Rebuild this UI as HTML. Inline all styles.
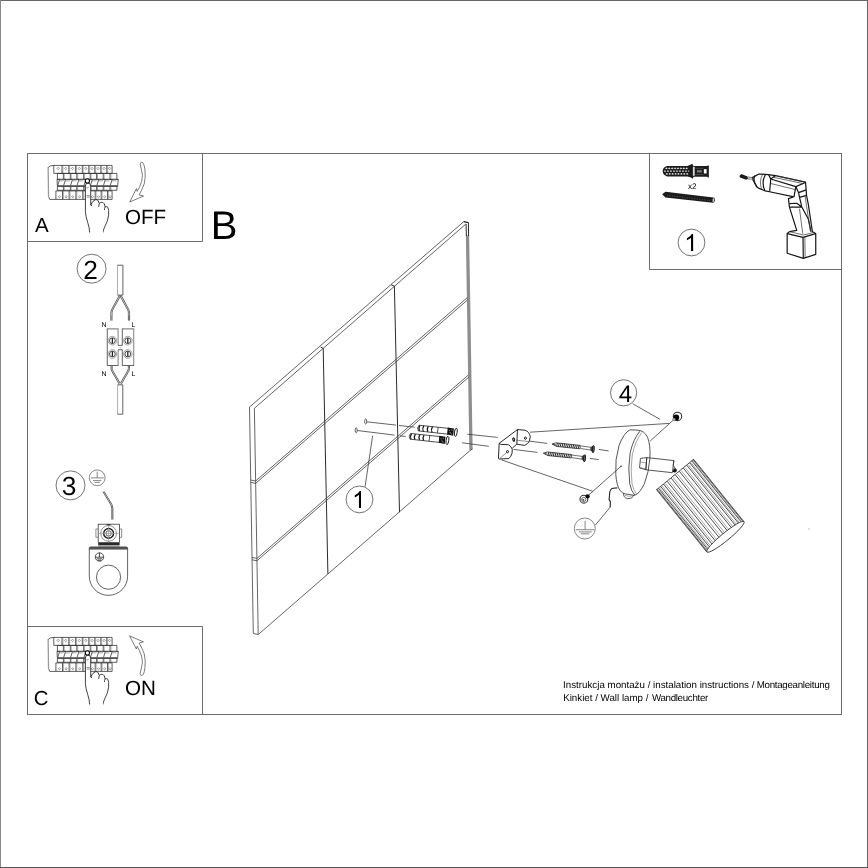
<!DOCTYPE html>
<html><head><meta charset="utf-8">
<style>
html,body{margin:0;padding:0;background:#fff;}
body{width:868px;height:868px;overflow:hidden;}
svg{display:block;}
text{font-family:"Liberation Sans",sans-serif;fill:#000;text-rendering:geometricPrecision;}
.f{fill:none;stroke:#6c6c6c;stroke-width:1;}
.l{fill:none;stroke:#333;stroke-width:0.8;}
.t{fill:none;stroke:#555;stroke-width:0.6;}
.k{fill:none;stroke:#111;stroke-width:1;}
.bk{fill:none;stroke:#2a2a2a;stroke-width:0.75;}
.bk2{fill:none;stroke:#6a6a6a;stroke-width:0.55;}
.hd{stroke:#222;stroke-width:0.85;fill:none;vector-effect:non-scaling-stroke;stroke-linejoin:round;}
.hf{fill:#fff;}
.bkt{stroke:#1c1c1c;stroke-width:0.95;fill:none;vector-effect:non-scaling-stroke;stroke-linejoin:round;}
.bkt2{stroke:#444;stroke-width:0.6;fill:none;vector-effect:non-scaling-stroke;}
.lp{stroke:#2a2a2a;stroke-width:0.8;fill:none;vector-effect:non-scaling-stroke;stroke-linejoin:round;}
.lp2{stroke:#666;stroke-width:0.6;fill:none;vector-effect:non-scaling-stroke;}
.sh{stroke:#222;stroke-width:0.8;fill:none;}
.sh2{stroke:#7a7a7a;stroke-width:0.65;fill:none;}
.w{stroke:#3e3e3e;stroke-width:0.8;fill:none;}
.wv{stroke:#2a2a2a;stroke-width:1;fill:none;}
.wk{stroke:#111;stroke-width:0.9;fill:none;}
.wr{stroke:#8e8e8e;stroke-width:3.3;fill:none;}
.ak{stroke:#222;stroke-width:0.8;fill:none;vector-effect:non-scaling-stroke;}
.dk{stroke:#151515;stroke-width:1.2;fill:none;vector-effect:non-scaling-stroke;stroke-linejoin:round;}
.dm2{stroke:#333;stroke-width:0.7;fill:none;vector-effect:non-scaling-stroke;}
.dm{stroke:#555;stroke-width:0.6;fill:none;vector-effect:non-scaling-stroke;}
.cn{fill:none;stroke:#444;stroke-width:0.75;}
.s2d{fill:none;stroke:#363636;stroke-width:0.78;}
.s2g{fill:none;stroke:#999;stroke-width:0.8;}
.s2a{fill:none;stroke:#999;stroke-width:0.7;}
.s2b{fill:none;stroke:#1c1c1c;stroke-width:0.8;}
.s2w{fill:none;stroke:#ddd;stroke-width:0.5;}
.s3g{fill:none;stroke:#686868;stroke-width:0.8;}
.hd2{stroke:#444;stroke-width:0.6;fill:none;vector-effect:non-scaling-stroke;}
.ar{stroke:#444;stroke-width:0.7;fill:#fff;vector-effect:non-scaling-stroke;stroke-linejoin:miter;}
</style></head><body>
<svg style="will-change:transform" width="868" height="868" viewBox="0 0 868 868">
<rect x="0" y="0" width="868" height="868" fill="#fff"/>
<defs><g id="brk">
<path class="bk" d="M53.8 165.5 L50.4 165.9 Q48.4 166.6 48 168 M48.5 196.5 L49.8 199.4 L112.1 199.4"/>
<path d="M48.15 167.5 L48.55 196.8" stroke="#9a9a9a" stroke-width="1.3" fill="none"/>
<path class="bk" d="M53.80 165.4H112.10V173.4H53.80Z"/>
<path class="bk" d="M62.00 165.4V173.4"/>
<path class="bk2" d="M62.90 165.4V173.4"/>
<path class="bk" d="M68.80 165.4V173.4"/>
<path class="bk2" d="M69.70 165.4V173.4"/>
<path class="bk" d="M75.60 165.4V173.4"/>
<path class="bk2" d="M76.50 165.4V173.4"/>
<path class="bk" d="M82.30 165.4V173.4"/>
<path class="bk2" d="M83.20 165.4V173.4"/>
<path class="bk" d="M88.80 165.4V173.4"/>
<path class="bk2" d="M89.70 165.4V173.4"/>
<path class="bk" d="M94.80 165.4V173.4"/>
<path class="bk2" d="M95.70 165.4V173.4"/>
<path class="bk" d="M100.80 165.4V173.4"/>
<path class="bk2" d="M101.70 165.4V173.4"/>
<path class="bk" d="M106.75 165.4V173.4"/>
<path class="bk2" d="M107.65 165.4V173.4"/>
<path d="M58.20 167.3l1.2 1.2l-1.2 1.2l-1.2 -1.2z" fill="none" stroke="#555" stroke-width="0.6"/>
<path d="M65.70 167.3l1.2 1.2l-1.2 1.2l-1.2 -1.2z" fill="none" stroke="#555" stroke-width="0.6"/>
<path d="M72.50 167.3l1.2 1.2l-1.2 1.2l-1.2 -1.2z" fill="none" stroke="#555" stroke-width="0.6"/>
<path d="M79.25 167.3l1.2 1.2l-1.2 1.2l-1.2 -1.2z" fill="none" stroke="#555" stroke-width="0.6"/>
<path d="M85.85 167.3l1.2 1.2l-1.2 1.2l-1.2 -1.2z" fill="none" stroke="#555" stroke-width="0.6"/>
<path d="M92.10 167.3l1.2 1.2l-1.2 1.2l-1.2 -1.2z" fill="none" stroke="#555" stroke-width="0.6"/>
<path d="M98.10 167.3l1.2 1.2l-1.2 1.2l-1.2 -1.2z" fill="none" stroke="#555" stroke-width="0.6"/>
<path d="M104.08 167.3l1.2 1.2l-1.2 1.2l-1.2 -1.2z" fill="none" stroke="#555" stroke-width="0.6"/>
<path d="M109.72 167.3l1.2 1.2l-1.2 1.2l-1.2 -1.2z" fill="none" stroke="#555" stroke-width="0.6"/>
<path class="bk" d="M57.40 173.4H116.90V179.3H57.40Z"/>
<path class="bk" d="M63.40 173.4V179.3"/>
<path class="bk2" d="M64.30 173.4V179.3"/>
<path class="bk" d="M70.30 173.4V179.3"/>
<path class="bk2" d="M71.20 173.4V179.3"/>
<path class="bk" d="M76.80 173.4V179.3"/>
<path class="bk2" d="M77.70 173.4V179.3"/>
<path class="bk" d="M83.70 173.4V179.3"/>
<path class="bk2" d="M84.60 173.4V179.3"/>
<path class="bk" d="M90.20 173.4V179.3"/>
<path class="bk2" d="M91.10 173.4V179.3"/>
<path class="bk" d="M96.60 173.4V179.3"/>
<path class="bk2" d="M97.50 173.4V179.3"/>
<path class="bk" d="M103.20 173.4V179.3"/>
<path class="bk2" d="M104.10 173.4V179.3"/>
<path class="bk" d="M110.00 173.4V179.3"/>
<path class="bk2" d="M110.90 173.4V179.3"/>
<path class="bk" d="M57 179.4H118.3L117.6 186.4H57.4Z"/>
<path d="M57.2 185.2H117.7V186.7H57.2Z" fill="#484848"/>
<path d="M57 178.95H118.3V179.75H57Z" fill="#3a3a3a"/>
<path d="M59.70 179.8H64.10L63.60 181.6H59.20Z" fill="#c4c4c4"/>
<path class="bk" d="M57.70 185.3L59.40 180"/>
<path d="M65.70 179.8H70.10L69.60 181.6H65.20Z" fill="#c4c4c4"/>
<path class="bk" d="M63.70 185.3L65.40 180"/>
<path d="M72.60 179.8H77.00L76.50 181.6H72.10Z" fill="#c4c4c4"/>
<path class="bk" d="M70.60 185.3L72.30 180"/>
<path d="M79.10 179.8H83.50L83.00 181.6H78.60Z" fill="#c4c4c4"/>
<path class="bk" d="M77.10 185.3L78.80 180"/>
<path d="M86.00 179.8H90.40L89.90 181.6H85.50Z" fill="#c4c4c4"/>
<path class="bk" d="M84.00 185.3L85.70 180"/>
<path d="M92.50 179.8H96.90L96.40 181.6H92.00Z" fill="#c4c4c4"/>
<path class="bk" d="M90.50 185.3L92.20 180"/>
<path d="M98.90 179.8H103.30L102.80 181.6H98.40Z" fill="#c4c4c4"/>
<path class="bk" d="M96.90 185.3L98.60 180"/>
<path d="M105.50 179.8H109.90L109.40 181.6H105.00Z" fill="#c4c4c4"/>
<path class="bk" d="M103.50 185.3L105.20 180"/>
<path d="M112.30 179.8H116.70L116.20 181.6H111.80Z" fill="#c4c4c4"/>
<path class="bk" d="M110.30 185.3L112.00 180"/>
<path class="bk" d="M57.40 186.7V190.3H116.90V186.7"/>
<path class="bk" d="M63.40 186.7V190.3"/>
<path class="bk2" d="M64.30 186.7V190.3"/>
<path class="bk" d="M70.30 186.7V190.3"/>
<path class="bk2" d="M71.20 186.7V190.3"/>
<path class="bk" d="M76.80 186.7V190.3"/>
<path class="bk2" d="M77.70 186.7V190.3"/>
<path class="bk" d="M83.70 186.7V190.3"/>
<path class="bk2" d="M84.60 186.7V190.3"/>
<path class="bk" d="M90.20 186.7V190.3"/>
<path class="bk2" d="M91.10 186.7V190.3"/>
<path class="bk" d="M96.60 186.7V190.3"/>
<path class="bk2" d="M97.50 186.7V190.3"/>
<path class="bk" d="M103.20 186.7V190.3"/>
<path class="bk2" d="M104.10 186.7V190.3"/>
<path class="bk" d="M110.00 186.7V190.3"/>
<path class="bk2" d="M110.90 186.7V190.3"/>
<path class="bk" d="M55.90 199.4V190.9H112.10V199.4"/>
<path class="bk" d="M62.50 190.9V199.4"/>
<path class="bk2" d="M63.40 190.9V199.4"/>
<path class="bk" d="M69.10 190.9V199.4"/>
<path class="bk2" d="M70.00 190.9V199.4"/>
<path class="bk" d="M75.90 190.9V199.4"/>
<path class="bk2" d="M76.80 190.9V199.4"/>
<path class="bk" d="M82.80 190.9V199.4"/>
<path class="bk2" d="M83.70 190.9V199.4"/>
<path class="bk" d="M89.00 190.9V199.4"/>
<path class="bk2" d="M89.90 190.9V199.4"/>
<path class="bk" d="M95.20 190.9V199.4"/>
<path class="bk2" d="M96.10 190.9V199.4"/>
<path class="bk" d="M101.20 190.9V199.4"/>
<path class="bk2" d="M102.10 190.9V199.4"/>
<path class="bk" d="M107.50 190.9V199.4"/>
<path class="bk2" d="M108.40 190.9V199.4"/>
<path d="M59.50 195.6l1.15 1.15l-1.15 1.15l-1.15 -1.15z" fill="none" stroke="#555" stroke-width="0.6"/>
<path d="M66.10 195.6l1.15 1.15l-1.15 1.15l-1.15 -1.15z" fill="none" stroke="#555" stroke-width="0.6"/>
<path d="M72.80 195.6l1.15 1.15l-1.15 1.15l-1.15 -1.15z" fill="none" stroke="#555" stroke-width="0.6"/>
<path d="M79.65 195.6l1.15 1.15l-1.15 1.15l-1.15 -1.15z" fill="none" stroke="#555" stroke-width="0.6"/>
<path d="M86.20 195.6l1.15 1.15l-1.15 1.15l-1.15 -1.15z" fill="none" stroke="#555" stroke-width="0.6"/>
<path d="M92.40 195.6l1.15 1.15l-1.15 1.15l-1.15 -1.15z" fill="none" stroke="#555" stroke-width="0.6"/>
<path d="M98.50 195.6l1.15 1.15l-1.15 1.15l-1.15 -1.15z" fill="none" stroke="#555" stroke-width="0.6"/>
<path d="M104.65 195.6l1.15 1.15l-1.15 1.15l-1.15 -1.15z" fill="none" stroke="#555" stroke-width="0.6"/>
<path d="M110.10 195.6l1.15 1.15l-1.15 1.15l-1.15 -1.15z" fill="none" stroke="#555" stroke-width="0.6"/>
<g transform="translate(40,155) scale(0.10369)">
<path class="hd hf" d="M438 545 L438 300 Q438 270 461 270 Q489 270 489 300 L489 482 Q505 440 540 428 Q565 430 572 468 Q585 452 605 456 Q625 465 628 502 Q645 492 655 505 Q665 525 662 580 Q655 640 625 690 Q610 720 608 752 L480 762 Q478 700 460 650 Q438 585 438 545Z" fill="#fff"/>
<path class="hd" d="M489 482 Q493 470 498 492 M572 468 Q566 480 566 500 M628 502 Q620 515 622 530"/>
<circle cx="457" cy="250" r="20.5" fill="#fff" stroke="#000" stroke-width="1.05" vector-effect="non-scaling-stroke"/><path class="hd2" d="M448 318 Q462 322 472 306"/>
<path class="hd2" d="M448 392H480 M452 406H480"/>
</g>
<path d="M89.2 232.5L103.6 231.6L103.8 235.5L89.2 235.5Z" fill="#fff"/>
</g></defs>
<!-- outer border -->
<path d="M0 0.5H868" stroke="#676767"/><path d="M0.5 0V868" stroke="#888"/><path d="M867.5 0V868" stroke="#666"/><path d="M0 867.5H868" stroke="#555"/><rect x="808.5" y="528.5" width="1" height="1" fill="#888"/>
<!-- main frame -->
<g id="frame" class="f">
<rect x="27.5" y="153.5" width="814" height="561"/>
<path d="M27.5 241.5H202.5V153.5"/>
<path d="M27.5 626.5H202.5V714.5"/>
<path d="M649.5 153.5V269.5H841.5"/>
</g>
<!-- labels -->
<g id="labels">
<text x="210.8" y="238.8" font-size="40">B</text>
<g font-size="9.75" fill="#1e1e1e"><text x="563.1" y="688.2">Instrukcja montażu / instalation instructions /</text><text x="756.7" y="688.2" letter-spacing="-0.29">Montageanleitung</text><text x="563.2" y="701.1">Kinkiet / Wall lamp /</text><text x="651.9" y="701.1" letter-spacing="-0.31">Wandleuchter</text></g>
</g>
<g id="secA"><use href="#brk"/>
<g transform="translate(115,155) scale(0.092166)"><path class="ar" d="M290 78 Q272 80 273 100 Q288 160 298 220 Q296 290 265 350 L240 395 L232 365 L160 510 L310 445 L262 432 Q295 375 318 310 Q334 240 325 160 Q318 110 308 92 Q300 78 290 78Z"/></g>
<text x="35" y="231.7" font-size="20.5">A</text>
<text x="124.9" y="223.75" font-size="20.6">OFF</text></g>
<g id="secC"><use href="#brk" transform="translate(0,472)"/>
<g transform="translate(115,625) scale(0.092166)"><path class="ar" d="M290 548 Q272 546 273 526 Q288 466 298 406 Q296 336 265 276 L240 231 L232 261 L158 118 L308 183 L262 196 Q295 251 318 316 Q334 386 325 466 Q318 516 308 534 Q300 548 290 548Z"/></g>
<text x="33.74" y="704.85" font-size="20.3">C</text>
<text x="124.9" y="694.85" font-size="20.6">ON</text></g>
<g id="sec2"><circle class="cn" cx="91.6" cy="268.7" r="14.5"/>
<text x="83.3" y="278.5" font-size="26.3">2</text>
<path class="s2g" d="M117.5 295.1V265.2"/><path class="s2d" d="M117.5 265.2H122.9V295.1H117.5"/>
<path class="s2d" d="M119.3 295.3L111.6 309.5Q110.7 311.5 110.8 314L110.8 320.6 M120.7 295.6L112.6 310.2Q111.9 311.8 112 314L112 320.6"/>
<path class="s2d" d="M121.2 295.3L128.8 309.5Q129.7 311.5 129.6 314L129.6 320.6 M119.9 295.8L127.8 310.2Q128.5 311.8 128.4 314L128.4 320.6"/>
<path class="s2w" d="M111.4 312.5V315.5 M129 312.5V315.5"/>
<text x="101.6" y="327.1" font-size="6.9" fill="#222">N</text><text x="131.5" y="327.1" font-size="6.9">L</text>
<text x="101.6" y="375.5" font-size="6.9">N</text><text x="131.5" y="375.5" font-size="6.9">L</text>
<path d="M107.25 328.9H118.1V345.4 M118.1 349.7V365.5 M122.3 328.9H133.7V365.5" fill="none" stroke="#8a8a8a" stroke-width="1.1"/>
<path class="s2d" d="M107.25 328.6V365.5H118.4 M118.1 345.4H122.3V328.6 M118.1 349.7H122.3V365.5H134"/>
<circle cx="120.1" cy="347.5" r="0.45" fill="#444"/>
<circle cx="112.4" cy="340.7" r="4.3" fill="none" stroke="#808080" stroke-width="0.7"/><circle cx="112.4" cy="340.7" r="2.9" fill="none" stroke="#222" stroke-width="0.8"/><rect x="111.75" y="338.10" width="1.3" height="5.2" fill="#222"/>
<circle cx="112.4" cy="354.0" r="4.3" fill="none" stroke="#808080" stroke-width="0.7"/><circle cx="112.4" cy="354.0" r="2.9" fill="none" stroke="#222" stroke-width="0.8"/><rect x="111.75" y="351.40" width="1.3" height="5.2" fill="#222"/>
<circle cx="127.8" cy="340.7" r="4.3" fill="none" stroke="#808080" stroke-width="0.7"/><circle cx="127.8" cy="340.7" r="2.9" fill="none" stroke="#222" stroke-width="0.8"/><rect x="127.15" y="338.10" width="1.3" height="5.2" fill="#222"/>
<circle cx="127.8" cy="354.0" r="4.3" fill="none" stroke="#808080" stroke-width="0.7"/><circle cx="127.8" cy="354.0" r="2.9" fill="none" stroke="#222" stroke-width="0.8"/><rect x="127.15" y="351.40" width="1.3" height="5.2" fill="#222"/>
<path class="s2d" d="M111 365.8V368.5Q111 370 112 371.6L119.2 384.2 M112.2 365.8V368.3Q112.2 369.6 113 371L120.1 383.2"/>
<path class="s2d" d="M129.5 365.8V368.5Q129.5 370 128.6 371.6L121.3 384.2 M128.3 365.8V368.3Q128.3 369.6 127.5 371L120.4 383.2"/>
<path class="s2g" d="M117.6 384.8V414.2"/><path class="s2d" d="M117.6 384.8H122.8V414.2H117.6"/></g>
<g id="sec3"><circle class="cn" cx="70.5" cy="485.4" r="14.5"/>
<text x="61.67" y="495.04" font-size="26.3">3</text>
<g class="s3g"><circle cx="97.2" cy="477.8" r="7.9"/><path d="M97.2 471.6V477.8 M90.9 477.9H103.8 M93 480.6H101.4 M94.6 482.4H99.8"/></g>
<path class="s2d" d="M103 491.8Q105.5 496 108.3 500.6Q111.6 505 111.8 508.5L111.8 519.6 M104 491.3Q106.5 495.5 109.3 500.1Q112.7 504.6 112.9 508.3L112.9 519.6"/>
<rect class="s2d" x="98.2" y="524.2" width="21.4" height="18.3" fill="#fff"/>
<path d="M98.2 529H95.9V537.3H98.2 M119.6 529H121.7V537.3H119.6" fill="none" stroke="#6e6e6e" stroke-width="0.8"/>
<circle cx="108.6" cy="533.4" r="7.9" fill="none" stroke="#777" stroke-width="0.8"/>
<circle cx="108.6" cy="533.4" r="4.9" fill="none" stroke="#1a1a1a" stroke-width="1.4"/>
<circle class="s2d" cx="108.6" cy="533.4" r="2.7"/>
<path class="s2g" d="M108.6 524.4V542.4 M99 533.4H118.6"/>
<path d="M106.3 524.2H110.9L110 525.2H107.2Z" fill="#222"/>
<rect x="98.2" y="542.9" width="21.4" height="2.5" fill="#2a2a2a"/>
<path class="s2g" d="M98.2 546.2H119.6"/>
<path class="s2d" d="M90.6 547.1H126.2Q127.6 547.1 127.6 548.5V576.2A19.15 19.15 0 0 1 89.3 576.2V548.5Q89.3 547.1 90.6 547.1Z" fill="#fff"/>
<path d="M90.6 547.1H126.2Q127.6 547.1 127.6 548.5V549.3H89.3V548.5Q89.3 547.1 90.6 547.1Z" fill="#555" stroke="#444" stroke-width="0.5"/>
<circle class="s2d" cx="108.55" cy="577.2" r="12.1"/>
<g fill="none" stroke="#222" stroke-width="0.8"><circle cx="99.5" cy="557" r="4.2"/><path d="M99.5 553V557 M95.6 557.2H103.4 M96.8 558.8H102.2 M98 560.2H101"/></g></g>
<g id="tools"><circle class="cn" cx="691.5" cy="242.5" r="13.4"/>
<path d="M763 0L583 0L583 1147Q518 1085 412.5 1023Q307 961 223 930L223 1104Q374 1175 487 1276Q600 1377 647 1472L763 1472Z" fill="#000" transform="translate(684.33,250.90) scale(0.011523,-0.011523)"/>
<text x="687.9" y="189.4" font-size="8.2" fill="#222">x2</text>
<g transform="translate(655,158) scale(0.080645)">
<path d="M95 165 Q98 110 150 100 L400 100 L440 85 L462 72 L478 100 L650 100 L650 92 L668 92 L668 242 L650 242 L650 232 L480 232 L465 258 L440 240 L400 228 L150 228 Q98 215 95 165Z" fill="#1c1c1c"/>
<path d="M125 128l16 -11l16 11l-16 11z M131 198l16 -11l16 11l-16 11z" fill="#f2f2f2"/>
<path d="M161 128l16 -11l16 11l-16 11z M167 198l16 -11l16 11l-16 11z" fill="#f2f2f2"/>
<path d="M197 128l16 -11l16 11l-16 11z M203 198l16 -11l16 11l-16 11z" fill="#f2f2f2"/>
<path d="M233 128l16 -11l16 11l-16 11z M239 198l16 -11l16 11l-16 11z" fill="#f2f2f2"/>
<path d="M269 128l16 -11l16 11l-16 11z M275 198l16 -11l16 11l-16 11z" fill="#f2f2f2"/>
<path d="M305 128l16 -11l16 11l-16 11z M311 198l16 -11l16 11l-16 11z" fill="#f2f2f2"/>
<path d="M341 128l16 -11l16 11l-16 11z M347 198l16 -11l16 11l-16 11z" fill="#f2f2f2"/>
<path d="M377 128l16 -11l16 11l-16 11z M383 198l16 -11l16 11l-16 11z" fill="#f2f2f2"/>
<path d="M112 162H420" stroke="#ccc" stroke-width="14" stroke-dasharray="24 13"/>
<rect x="470" y="108" width="22" height="112" fill="#ddd"/>
<rect x="606" y="138" width="34" height="54" fill="#fff"/>
<rect x="520" y="150" width="60" height="30" fill="#777"/>
<path d="M500 128H600 M500 205H600" stroke="#888" stroke-width="5"/>
<path d="M88 448 L130 418 L725 490 Q745 495 742 525 Q738 555 718 555 L130 490 Z" fill="#1c1c1c"/>
<ellipse cx="723" cy="522" rx="11" ry="27" fill="#fff" stroke="#222" stroke-width="5" transform="rotate(8 723 522)"/>
<path d="M150 462 L690 528" stroke="#999" stroke-width="7" stroke-dasharray="9 22"/>
</g>
<g transform="translate(735,165) scale(0.092166)">
<path d="M48 116 L70 99 L136 124 L142 150 L120 159 L54 136 Z" fill="#1a1a1a"/>
<path class="dm2" d="M140 130 L192 137 M138 151 L188 153"/>
<path class="dk" fill="#fff" d="M192 134 L255 100 L275 98 L360 105 L440 115 L765 185 L772 270 L776 330 L795 425 L840 725 L876 744 L876 970 L741 1013 L566 957 L566 744 L591 723 L670 710 L590 455 L580 365 L640 345 L375 290 L325 280 L250 248 L235 235 L195 162 Z"/>
<path class="dk" d="M216 116 Q188 160 240 241"/>
<path class="dk" d="M330 103 Q282 190 325 280"/>
<path class="dm2" d="M300 100 Q255 180 292 266"/>
<path class="dk" d="M366 107 L388 152 L376 290 M388 152 L440 115 M388 152 L660 235 L765 190 M660 235 L640 345"/>
<path class="dm2" d="M384 200 L652 266 M420 134 L742 202 M470 122 L770 188"/>
<path class="dk" d="M772 270 L690 300 L660 235 M690 300 L700 352 L776 330"/>
<path class="dk" d="M590 420 L670 415 L725 455 L590 457 M725 455 L795 585 L825 725 M700 352 L725 455"/>
<path class="dm2" d="M700 475 L735 745 M760 330 L775 440 L818 715"/>
<path class="dk" d="M566 744 L738 786 L876 744 M738 786 L741 1013"/>
<path class="dm2" d="M758 782 L761 1006 M591 723 L745 760 L858 730"/>
</g></g>
<g id="wall"><path class="w" d="M249.5 407.1L463.7 221.7L468.4 222.6"/>
<path class="w" d="M254.4 408.3L465.9 224.0"/>
<path class="w" d="M249.5 407.1L253.3 633.5L258.5 634.6"/>
<path class="w" d="M254.4 408.3L258.2 634.2"/>
<path class="w" d="M258.5 634.3L469.7 450.8"/>
<path class="wr" d="M467.5 235.5L471 449.9"/>
<path class="wk" d="M466.1 224L466.35 236 M468.4 222.6L468.6 236 M463.7 221.7L468.4 222.6"/>
<path class="w" d="M472.4 448.9L469.7 450.9"/>
<path class="wv" d="M323.2 348.4L327.9 573.8 M320.7 347.0L323.2 348.4"/>
<path class="wv" d="M394.4 286.2L399.5 512.2 M391.2 284.8L394.4 286.2"/>
<path class="w" d="M250.7 480.0L255.6 481.0L467.3 297.6 M250.8 482.4L255.6 483.4L467.4 300.1"/>
<path class="w" d="M252 557.4L256.9 558.4L468.6 374.8 M252.1 559.8L256.9 560.8L468.7 377.2"/>
<ellipse class="w" cx="365.7" cy="421.5" rx="1" ry="2.6"/><ellipse class="w" cx="356.2" cy="430.2" rx="1" ry="2.6"/>
<path class="w" d="M366.8 421.8L396 425.1 M399 425.5L414.6 427.2 M357.3 430.5L394.5 435.1 M400 435.8L405.7 436.5"/>
<g transform="translate(345.00,405.00) scale(0.14977)">
<path class="ak" fill="#fff" d="M494 135 Q478 153 490 173 L688 195 L692 156 Z"/>
<path d="M500 138 q-12 17 -3 36" fill="none" stroke="#111" stroke-width="1.25" vector-effect="non-scaling-stroke"/>
<path d="M526 140 q-12 17 -3 36" fill="none" stroke="#111" stroke-width="1.25" vector-effect="non-scaling-stroke"/>
<path d="M556 143 q-12 17 -3 36" fill="none" stroke="#111" stroke-width="1.25" vector-effect="non-scaling-stroke"/>
<path d="M584 146 q-12 17 -3 36" fill="none" stroke="#111" stroke-width="1.25" vector-effect="non-scaling-stroke"/>
<path class="ak" d="M622 149 L617 186" stroke="#888"/>
<path d="M686 151 L727 157 L722 205 L682 197 Z" fill="#111"/>
<path d="M694 170l8 2 M699 184l9 2 M706 192l8 2 M709 166l8 2" stroke="#ddd" stroke-width="4"/>
<ellipse cx="740" cy="182" rx="9" ry="28" fill="#fff" stroke="#1a1a1a" stroke-width="1" vector-effect="non-scaling-stroke" transform="rotate(8 740 182)"/>
</g>
<g transform="translate(336.61,413.24) scale(0.14977)">
<path class="ak" fill="#fff" d="M494 135 Q478 153 490 173 L688 195 L692 156 Z"/>
<path d="M500 138 q-12 17 -3 36" fill="none" stroke="#111" stroke-width="1.25" vector-effect="non-scaling-stroke"/>
<path d="M526 140 q-12 17 -3 36" fill="none" stroke="#111" stroke-width="1.25" vector-effect="non-scaling-stroke"/>
<path d="M556 143 q-12 17 -3 36" fill="none" stroke="#111" stroke-width="1.25" vector-effect="non-scaling-stroke"/>
<path d="M584 146 q-12 17 -3 36" fill="none" stroke="#111" stroke-width="1.25" vector-effect="non-scaling-stroke"/>
<path class="ak" d="M622 149 L617 186" stroke="#888"/>
<path d="M686 151 L727 157 L722 205 L682 197 Z" fill="#111"/>
<path d="M694 170l8 2 M699 184l9 2 M706 192l8 2 M709 166l8 2" stroke="#ddd" stroke-width="4"/>
<ellipse cx="740" cy="182" rx="9" ry="28" fill="#fff" stroke="#1a1a1a" stroke-width="1" vector-effect="non-scaling-stroke" transform="rotate(8 740 182)"/>
</g>
<path class="w" d="M372.6 435.8L365.1 486.6"/>
<circle class="cn" cx="359.5" cy="499.4" r="13.4"/>
<path d="M763 0L583 0L583 1147Q518 1085 412.5 1023Q307 961 223 930L223 1104Q374 1175 487 1276Q600 1377 647 1472L763 1472Z" fill="#000" transform="translate(352.23,508.00) scale(0.011523,-0.011523)"/>
<path class="w" d="M467.3 434.2L490 436.6 M462.1 442.8L488.8 446.3"/></g>
<g id="lamp"><path class="w" d="M529.9 432.2L669.4 423.4 M673 420.4L650.1 441.1 M501.5 459.9L592.8 491.3 M589 494.8L621.1 466.2 M632.6 403.7L659.9 419.3"/>
<path class="w" d="M490 436.6L497.7 437.4 M529.9 441.2L547.2 443.4 M598.8 449.4L608.6 450.9 M513.5 449.4L537.4 452.4 M589.8 458.4L598.8 459.6"/>
<g transform="translate(485,400) scale(0.14977)">
<path class="bkt" fill="#fff" d="M94.6 289.4 L216.9 197.1 L265.4 201.7 Q297 210 302.3 245.6 L295.4 277.9 Q285 292 265.4 303.3 L212.3 295 L182.3 321.7"/>
<path class="bkt" d="M216.9 197.1 L212.3 295"/>
<path class="bkt2" d="M212.3 268.6 L295.4 277.9"/>
<path class="bkt" fill="#fff" d="M94.6 289.4 L106 296.3 L156.9 298.6 Q177 311 182.3 331 L180 358.6 Q173 379 159.2 390.9 L94.6 394.2 L90 390 Z"/>
<path class="bkt2" d="M96 392 L146 349"/>
<ellipse cx="270" cy="255" rx="6.5" ry="7.5" fill="#fff" stroke="#111" stroke-width="1" vector-effect="non-scaling-stroke"/><ellipse cx="150" cy="345" rx="6.5" ry="7.5" fill="#fff" stroke="#111" stroke-width="1" vector-effect="non-scaling-stroke"/><ellipse cx="191.5" cy="264" rx="6" ry="11" fill="#fff" stroke="#111" stroke-width="1.1" vector-effect="non-scaling-stroke" transform="rotate(-12 191.5 264)"/>
<g transform="translate(0,0)"><path d="M447 294 L474 286 L635 303 L635 326 L478 310 Z" fill="#fff" stroke="#222" stroke-width="0.8" vector-effect="non-scaling-stroke" stroke-linejoin="round"/><path d="M484 287.1L478 310.0 M496 288.3L490 311.2 M508 289.6L502 312.4 M520 290.9L514 313.7 M532 292.1L526 314.9 M544 293.4L538 316.1 M556 294.7L550 317.3 M568 295.9L562 318.6 M580 297.2L574 319.8 M592 298.5L586 321.0 M604 299.7L598 322.2 M616 301.0L610 323.5 M628 302.3L622 324.7" fill="none" stroke="#222" stroke-width="0.95" vector-effect="non-scaling-stroke"/><path d="M455 296 L474 300" stroke="#222" stroke-width="0.8" vector-effect="non-scaling-stroke"/><path d="M635 306 L709 316 M639 324 L705 334" fill="none" stroke="#333" stroke-width="0.7" vector-effect="non-scaling-stroke"/><path d="M704 315 L722 303 L724 352 L702 335 Z" fill="#444"/><ellipse cx="723" cy="328" rx="6.5" ry="24" fill="#666" stroke="#111" stroke-width="0.9" vector-effect="non-scaling-stroke" transform="rotate(5 723 328)"/></g>
<g transform="translate(-58,61)"><path d="M447 294 L474 286 L635 303 L635 326 L478 310 Z" fill="#fff" stroke="#222" stroke-width="0.8" vector-effect="non-scaling-stroke" stroke-linejoin="round"/><path d="M484 287.1L478 310.0 M496 288.3L490 311.2 M508 289.6L502 312.4 M520 290.9L514 313.7 M532 292.1L526 314.9 M544 293.4L538 316.1 M556 294.7L550 317.3 M568 295.9L562 318.6 M580 297.2L574 319.8 M592 298.5L586 321.0 M604 299.7L598 322.2 M616 301.0L610 323.5 M628 302.3L622 324.7" fill="none" stroke="#222" stroke-width="0.95" vector-effect="non-scaling-stroke"/><path d="M455 296 L474 300" stroke="#222" stroke-width="0.8" vector-effect="non-scaling-stroke"/><path d="M635 306 L709 316 M639 324 L705 334" fill="none" stroke="#333" stroke-width="0.7" vector-effect="non-scaling-stroke"/><path d="M704 315 L722 303 L724 352 L702 335 Z" fill="#444"/><ellipse cx="723" cy="328" rx="6.5" ry="24" fill="#666" stroke="#111" stroke-width="0.9" vector-effect="non-scaling-stroke" transform="rotate(5 723 328)"/></g>
</g>
<circle cx="677.5" cy="416.4" r="4.2" fill="#fff" stroke="#333" stroke-width="1.1"/><circle cx="676.3" cy="417.5" r="2.9" fill="#050505"/><circle cx="674" cy="419.3" r="1.3" fill="#ccc" stroke="#444" stroke-width="0.6"/>
<circle cx="583.9" cy="499.2" r="3.9" fill="#fff" stroke="#333" stroke-width="1.1"/><circle cx="583.7" cy="499.5" r="2.1" fill="none" stroke="#444" stroke-width="0.8"/><circle cx="583.3" cy="499.8" r="0.9" fill="#333"/><circle cx="587.6" cy="496.4" r="2.1" fill="#050505"/>
<circle class="cn" cx="623.6" cy="392.8" r="13.1"/>
<text x="618.8" y="402.2" font-size="24">4</text>
<g transform="translate(600,410) scale(0.115207)">
<path class="lp" fill="#fff" d="M260 172 Q205 200 165 310 Q128 430 137 560 Q145 660 175 700 Q195 722 215 727 L300 741 Q345 725 385 640 Q425 540 433 420 Q440 300 412 235 Q385 180 330 175 Z"/>
<path class="lp" d="M346 184 Q290 250 262 370 Q240 500 258 640 Q270 705 302 738"/>
<path class="lp2" d="M362 196 Q305 270 280 390 Q262 510 278 640 Q290 700 318 730"/>
<circle cx="183" cy="488" r="6.5" fill="#333"/>
<path class="lp" fill="#fff" d="M406 413 L641 439 L628 544 L398 519 Z"/>
<path class="lp" fill="#fff" d="M351 420 L406 413 L398 519 L343 503 Z"/>
<path class="lp2" d="M347 452 L401 458 M345 498 L397 510"/>
<path d="M640 505 L662 512 L668 530 L650 545 L632 535 Z" fill="#111"/>
<path class="lp" d="M641 439 L636 480 L662 522"/>
<path class="lp" fill="#fff" d="M205 722 Q200 760 240 770 Q285 768 292 738"/>
<path class="lp2" d="M215 740 Q245 755 285 745"/>
<path d="M150 676 L112 679 Q88 684 84 720 L79 778 L90 795 L88 846" fill="none" stroke="#222" stroke-width="1.1" vector-effect="non-scaling-stroke" stroke-linejoin="round"/>
</g>
<path class="w" d="M610 507.3L595.3 525.2"/>
<g class="s3g"><circle cx="584.8" cy="528.5" r="10.5"/><path d="M585.1 520.9V529.5 M575.9 529.7H594.3 M578.8 531.9H591.7 M580.7 533.8H589.4"/></g>
<path d="M656.70 489.90 L657.17 489.52 L658.54 488.39 L660.75 486.58 L663.68 484.18 L667.20 481.30 L671.12 478.08 L675.25 474.70 L679.38 471.32 L683.30 468.10 L686.82 465.22 L689.75 462.82 L691.96 461.01 L693.33 459.88 L693.80 459.50 L744.10 521.60 L706.80 552.00 Z" fill="#fff" stroke="none"/>
<ellipse cx="725.45" cy="536.80" rx="23.98" ry="3.90" transform="rotate(-39.33 725.45 536.80)" class="sh" fill="#fff"/>
<path class="sh" d="M656.70 489.90L706.80 552.00"/>
<path class="sh" d="M657.17 489.52L706.72 550.94"/>
<path class="sh" d="M658.54 488.39L707.57 549.18"/>
<path class="sh" d="M660.75 486.58L709.32 546.79"/>
<path class="sh" d="M663.68 484.18L711.87 543.90"/>
<path class="sh" d="M667.20 481.30L715.10 540.66"/>
<path class="sh" d="M671.12 478.08L718.83 537.22"/>
<path class="sh" d="M675.25 474.70L722.90 533.76"/>
<path class="sh" d="M679.38 471.32L727.09 530.46"/>
<path class="sh" d="M683.30 468.10L731.19 527.47"/>
<path class="sh" d="M686.82 465.22L735.00 524.95"/>
<path class="sh" d="M689.75 462.82L738.33 523.02"/>
<path class="sh" d="M691.96 461.01L741.00 521.79"/>
<path class="sh" d="M693.33 459.88L742.89 521.31"/>
<path class="sh" d="M693.80 459.50L743.90 521.60"/>
<path class="sh2" d="M657.25 490.22L706.64 551.44"/>
<path class="sh2" d="M658.06 489.56L707.00 550.22"/>
<path class="sh2" d="M659.75 488.17L708.21 548.24"/>
<path class="sh2" d="M662.24 486.14L710.27 545.67"/>
<path class="sh2" d="M665.40 483.55L713.08 542.65"/>
<path class="sh2" d="M669.07 480.54L716.50 539.33"/>
<path class="sh2" d="M673.07 477.26L720.37 535.89"/>
<path class="sh2" d="M677.20 473.88L724.48 532.49"/>
<path class="sh2" d="M681.24 470.56L728.63 529.30"/>
<path class="sh2" d="M685.01 467.48L732.62 526.49"/>
<path class="sh2" d="M688.31 464.78L736.24 524.19"/>
<path class="sh2" d="M690.97 462.60L739.32 522.52"/>
<path class="sh2" d="M692.86 461.05L741.68 521.56"/>
<path class="sh2" d="M693.89 460.20L743.18 521.30"/>
<path class="sh" d="M656.70 489.90 Q656.37 489.01 657.17 489.52 Q657.29 488.26 658.54 488.39 Q659.08 486.79 660.75 486.58 Q661.65 484.68 663.68 484.18 Q664.88 482.04 667.20 481.30 Q668.60 478.99 671.12 478.08 Q672.62 475.69 675.25 474.70 Q676.75 472.31 679.38 471.32 Q680.77 469.01 683.30 468.10 Q684.49 465.96 686.82 465.22 Q687.72 463.32 689.75 462.82 Q690.29 461.21 691.96 461.01 Q692.08 459.74 693.33 459.88 Q693.00 458.99 693.80 459.50"/></g>
</svg>
</body></html>
